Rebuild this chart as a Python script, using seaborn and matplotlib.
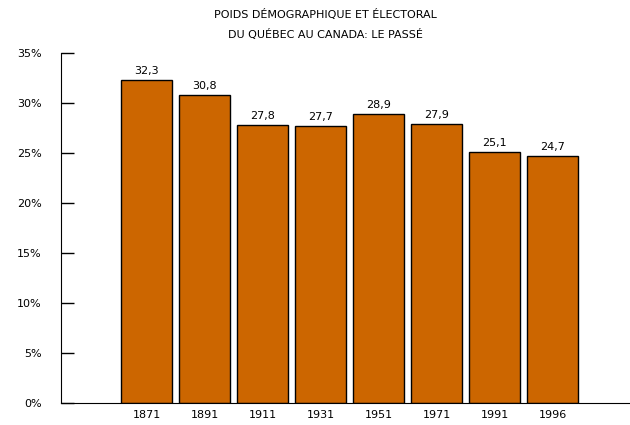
import seaborn as sns
import matplotlib.pyplot as plt
import pandas as pd

# Données : poids du Québec dans la population canadienne (%)
annees = ["1871", "1891", "1911", "1931", "1951", "1971", "1991", "1996"]
poids = [32.3, 30.8, 27.8, 27.7, 28.9, 27.9, 25.1, 24.7]

df = pd.DataFrame({"annee": annees, "poids": poids})

sns.set_style("white")
plt.rcParams["font.family"] = ["DejaVu Sans"]
plt.rcParams["text.color"] = "black"
plt.rcParams["xtick.color"] = "black"
plt.rcParams["ytick.color"] = "black"

fig = plt.figure(figsize=(6.3, 4.25), dpi=100)
ax = fig.add_axes([0.097, 0.052, 0.903, 0.823])

sns.barplot(data=df, x="annee", y="poids", color="#CC6600", saturation=1,
            edgecolor="black", linewidth=1, width=0.88, ax=ax)

for i, v in enumerate(poids):
    ax.text(i, v + 0.45, f"{v:.1f}".replace(".", ","), ha="center", va="bottom",
            fontsize=8)

ax.set_xlim(-1.48, 8.33)
ax.set_ylim(0, 35)
ax.set_yticks(range(0, 36, 5))
ax.set_yticklabels([f"{t}%" for t in range(0, 36, 5)], fontsize=8)
ax.tick_params(axis="y", direction="in", length=9, width=1, left=True, pad=14)
ax.tick_params(axis="x", length=0, labelsize=8, pad=5)
ax.set_xlabel("")
ax.set_ylabel("")
for s in ["top", "right"]:
    ax.spines[s].set_visible(False)
ax.spines["left"].set_color("black")
ax.spines["bottom"].set_color("black")

fig.text(0.517, 0.965, "POIDS DÉMOGRAPHIQUE ET ÉLECTORAL", ha="center",
         va="center", fontsize=8)
fig.text(0.517, 0.918, "DU QUÉBEC AU CANADA: LE PASSÉ", ha="center",
         va="center", fontsize=8)

plt.savefig("out.png", dpi=100)
